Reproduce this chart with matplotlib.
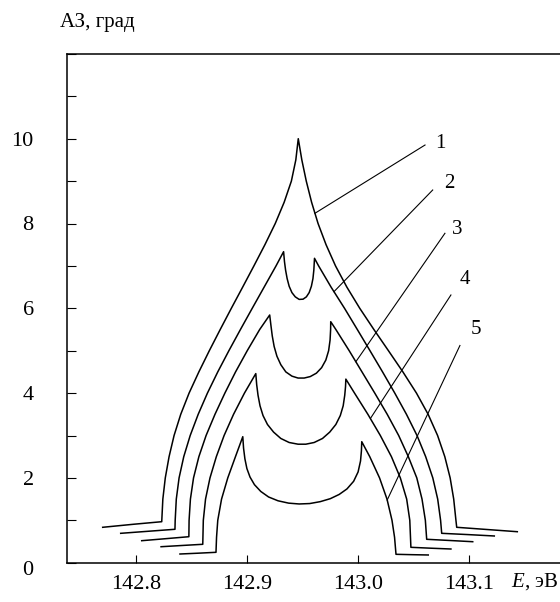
import matplotlib

matplotlib.use("Agg")
import matplotlib.pyplot as plt
import matplotlib.transforms as mtransforms
from matplotlib.ticker import MultipleLocator

plt.rcParams["font.family"] = ["Liberation Serif", "DejaVu Serif"]
plt.rcParams["mathtext.fontset"] = "custom"
plt.rcParams["mathtext.rm"] = "Liberation Serif"
plt.rcParams["mathtext.it"] = "Liberation Serif:italic"

# ---- digitised curves: photon energy E (eV) vs rotation angle (deg) ----
# each curve: left tail, left flank, top (peak or dip), right flank, right tail
e1 = [142.7703, 142.7978, 142.8234, 142.8244, 142.8266, 142.8300, 142.8345, 142.8405,
      142.8480, 142.8568, 142.8662, 142.8760, 142.8860, 142.8962, 142.9063, 142.9162,
      142.9255, 142.9335, 142.9400, 142.9440, 142.9462,
      142.9494, 142.9534, 142.9582, 142.9640, 142.9712, 142.9797, 142.9899, 143.0015,
      143.0142, 143.0273, 143.0403, 143.0525, 143.0630, 143.0715, 143.0780, 143.0828,
      143.0860, 143.0880, 143.0887, 143.1159, 143.1432]
a1 = [0.835, 0.906, 0.967, 1.5, 2.0, 2.5, 3.0, 3.5,
      4.0, 4.5, 5.0, 5.5, 6.0, 6.5, 7.0, 7.5,
      8.0, 8.5, 9.0, 9.5, 10.0,
      9.5, 9.0, 8.5, 8.0, 7.5, 7.0, 6.5, 6.0,
      5.5, 5.0, 4.5, 4.0, 3.5, 3.0, 2.5, 2.0,
      1.5, 1.0, 0.835, 0.783, 0.731]

e2 = [142.7865, 142.8111, 142.8353, 142.8355, 142.8365, 142.8390, 142.8432, 142.8490,
      142.8562, 142.8645, 142.8738, 142.8838, 142.8942, 142.9048, 142.9155, 142.9262,
      142.9330,
      142.9338, 142.9348, 142.9362, 142.9380, 142.9405, 142.9435, 142.9470, 142.9505,
      142.9535, 142.9560, 142.9580, 142.9594, 142.9602, 142.9608,
      142.9645, 142.9757, 142.9878, 142.9993, 143.0107, 143.0220, 143.0330, 143.0435,
      143.0530, 143.0608, 143.0672, 143.0716, 143.0742, 143.0752, 143.0988, 143.1225]
a2 = [0.693, 0.741, 0.788, 1.0, 1.5, 2.0, 2.5, 3.0,
      3.5, 4.0, 4.5, 5.0, 5.5, 6.0, 6.5, 7.0,
      7.335,
      7.10, 6.90, 6.70, 6.52, 6.37, 6.27, 6.21, 6.215,
      6.27, 6.37, 6.52, 6.70, 6.90, 7.179,
      7.0, 6.5, 6.0, 5.5, 5.0, 4.5, 4.0, 3.5,
      3.0, 2.5, 2.0, 1.5, 1.0, 0.693, 0.663, 0.630]

e3 = [142.8054, 142.8268, 142.8478, 142.8480, 142.8492, 142.8520, 142.8568, 142.8633,
      142.8713, 142.8802, 142.8898, 142.9003, 142.9115, 142.9205,
      142.9216, 142.9228, 142.9245, 142.9270, 142.9305, 142.9350, 142.9405, 142.9460,
      142.9515, 142.9570, 142.9625, 142.9672, 142.9710, 142.9735, 142.9748, 142.9753,
      142.9754,
      142.9800, 142.9920, 143.0035, 143.0150, 143.0262, 143.0365, 143.0452, 143.0528,
      143.0575, 143.0605, 143.0617, 143.0824, 143.1031]
a3 = [0.519, 0.566, 0.613, 1.0, 1.5, 2.0, 2.5, 3.0,
      3.5, 4.0, 4.5, 5.0, 5.5, 5.842,
      5.60, 5.35, 5.10, 4.87, 4.67, 4.50, 4.40, 4.355,
      4.355, 4.39, 4.47, 4.60, 4.78, 5.00, 5.25, 5.50,
      5.684,
      5.5, 5.0, 4.5, 4.0, 3.5, 3.0, 2.5, 2.0,
      1.5, 1.0, 0.552, 0.524, 0.495]

e4 = [142.8228, 142.8416, 142.8603, 142.8608, 142.8628, 142.8668, 142.8725, 142.8795,
      142.8880, 142.8978, 142.9080,
      142.9088, 142.9100, 142.9118, 142.9145, 142.9185, 142.9240, 142.9305, 142.9380,
      142.9460, 142.9530, 142.9605, 142.9680, 142.9745, 142.9800, 142.9840, 142.9866,
      142.9880, 142.9887, 142.9890,
      142.9968, 143.0088, 143.0200, 143.0300, 143.0380, 143.0437, 143.0465, 143.0475,
      143.0654, 143.0835]
a4 = [0.377, 0.406, 0.434, 1.0, 1.5, 2.0, 2.5, 3.0,
      3.5, 4.0, 4.46,
      4.20, 3.95, 3.70, 3.47, 3.26, 3.08, 2.93, 2.835,
      2.795, 2.795, 2.835, 2.93, 3.08, 3.26, 3.47, 3.70,
      3.95, 4.15, 4.33,
      4.0, 3.5, 3.0, 2.5, 2.0, 1.5, 1.0, 0.363,
      0.342, 0.323]

e5 = [142.8398, 142.8560, 142.8722, 142.8727, 142.8738, 142.8772, 142.8828, 142.8897,
      142.8963,
      142.8970, 142.8982, 142.9000, 142.9028, 142.9068, 142.9125, 142.9195, 142.9280,
      142.9375, 142.9470, 142.9565, 142.9660, 142.9750, 142.9830, 142.9900, 142.9960,
      143.0000, 143.0022, 143.0030, 143.0033,
      143.0105, 143.0193, 143.0260, 143.0305, 143.0328, 143.0341, 143.0487, 143.0631]
a5 = [0.205, 0.224, 0.245, 0.6, 1.0, 1.5, 2.0, 2.5,
      2.972,
      2.70, 2.45, 2.22, 2.02, 1.84, 1.68, 1.55, 1.46,
      1.405, 1.385, 1.395, 1.44, 1.51, 1.61, 1.74, 1.92,
      2.14, 2.40, 2.64, 2.854,
      2.5, 2.0, 1.5, 1.0, 0.6, 0.198, 0.189, 0.182]

curves_e = [e1, e2, e3, e4, e5]
curves_a = [a1, a2, a3, a4, a5]
curve_labels = ["1", "2", "3", "4", "5"]

# leader lines: point on the curve -> end next to the number
leader_e0 = [142.9612, 142.9783, 142.9980, 143.0112, 143.0262]
leader_a0 = [8.241, 6.392, 4.741, 3.406, 1.479]
leader_e1 = [143.0602, 143.0671, 143.0781, 143.0835, 143.0916]
leader_a1 = [9.851, 8.790, 7.769, 6.314, 5.123]

xticks = [142.8, 142.9, 143.0, 143.1]
xticklabels = ["142.8", "142.9", "143.0", "143.1"]
yticks = [0, 2, 4, 6, 8, 10]

W, H = 560, 602
fig = plt.figure(figsize=(W / 100, H / 100), dpi=100)
ax = fig.add_axes([67 / W, (H - 562.7) / H, 493 / W, 508.8 / H])

for e, a in zip(curves_e, curves_a):
    ax.plot(e, a, color="black", lw=1.1)

for xa, ya, xb, yb in zip(leader_e0, leader_a0, leader_e1, leader_a1):
    ax.plot([xa, xb], [ya, yb], color="black", lw=0.8)

label_pos = [(143.0740, 9.89), (143.0820, 8.95), (143.0887, 7.85),
             (143.0961, 6.67), (143.1060, 5.50)]
for lab, (lx, ly) in zip(curve_labels, label_pos):
    ax.text(lx, ly, lab, fontsize=15, ha="center", va="center")

ax.set_xlim(142.7382, 143.1816)
ax.set_ylim(0, 12)
ax.set_xticks(xticks)
ax.set_xticklabels(xticklabels)
ax.set_yticks(yticks)
ax.yaxis.set_minor_locator(MultipleLocator(1))
ax.tick_params(axis="y", which="both", direction="in", length=6.5, width=0.8,
               labelsize=16, pad=24)
ax.tick_params(axis="x", direction="in", length=6, width=0.8, labelsize=16, pad=9)
ax.spines["right"].set_visible(False)
for s in ("left", "top", "bottom"):
    ax.spines[s].set_linewidth(1.1)

# the zero label sits a little below the axis line
zero_lab = ax.yaxis.get_major_ticks()[0].label1
zero_lab.set_transform(zero_lab.get_transform()
                       + mtransforms.ScaledTranslation(0, -5 / 100, fig.dpi_scale_trans))

fig.text(60 / W, 1 - 23 / H, "АЗ, град", fontsize=15, ha="left", va="center")
fig.text(511 / W, 1 - 582 / H, "$E$, эВ", fontsize=15, ha="left", va="center")

fig.savefig("out.png", dpi=100)
